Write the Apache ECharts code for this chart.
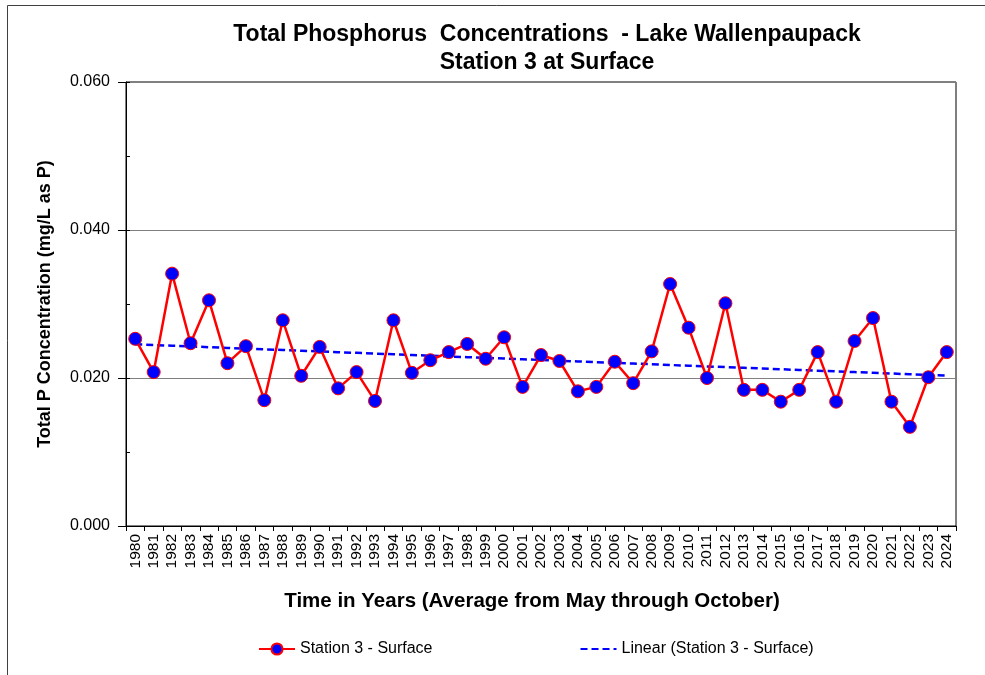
<!DOCTYPE html>
<html>
<head>
<meta charset="utf-8">
<script src="https://cdn.jsdelivr.net/npm/echarts@6/dist/echarts.min.js"></script>
<style>
  html, body { margin: 0; padding: 0; background: #fff; }
  #chart { width: 985px; height: 675px; }
</style>
</head>
<body>
<div id="chart"></div>
<script>
// years 1980 - 2024
const years = [
  '1980','1981','1982','1983','1984','1985','1986','1987','1988','1989',
  '1990','1991','1992','1993','1994','1995','1996','1997','1998','1999',
  '2000','2001','2002','2003','2004','2005','2006','2007','2008','2009',
  '2010','2011','2012','2013','2014','2015','2016','2017','2018','2019',
  '2020','2021','2022','2023','2024'
];

// average total P (mg/L)
const station3 = [
  0.0253, 0.0208, 0.0341, 0.0247, 0.0305, 0.0220, 0.0243, 0.0170, 0.0278, 0.0203,
  0.0242, 0.0186, 0.0208, 0.0169, 0.0278, 0.0207, 0.0224, 0.0235, 0.0246, 0.0226,
  0.0255, 0.0188, 0.0231, 0.0223, 0.0182, 0.0188, 0.0222, 0.0193, 0.0236, 0.0327,
  0.0268, 0.0200, 0.0301, 0.0184, 0.0184, 0.0168, 0.0184, 0.0235, 0.0168, 0.0250,
  0.0281, 0.0168, 0.0134, 0.0201, 0.0235
];

const yTicks = [0, 0.02, 0.04, 0.06];

// least squares trend line (like Excel's "Linear" trendline)
const n = station3.length;
let sx = 0, sy = 0, sxy = 0, sxx = 0;
station3.forEach((v, i) => { sx += i; sy += v; sxy += i * v; sxx += i * i; });
const slope = (n * sxy - sx * sy) / (n * sxx - sx * sx);
const intercept = (sy - slope * sx) / n;
const trend = station3.map((v, i) => intercept + slope * i);

const font = 'Liberation Sans, Arial, sans-serif';
const chart = echarts.init(document.getElementById('chart'));

chart.setOption({
  backgroundColor: '#fff',
  animation: false,
  textStyle: { fontFamily: font },
  graphic: [{
    // outer frame (only top and left edges are visible)
    type: 'rect',
    shape: { x: 7.5, y: 5.5, width: 1000, height: 700 },
    style: { fill: 'none', stroke: '#404040', lineWidth: 1 }
  }],
  title: {
    text: 'Total Phosphorus  Concentrations  - Lake Wallenpaupack\nStation 3 at Surface',
    left: 542,
    textAlign: 'center',
    top: 16,
    textStyle: { fontSize: 23, fontWeight: 'bold', color: '#000', lineHeight: 28, fontFamily: font }
  },
  legend: {
    top: 636,
    left: 253,
    itemWidth: 36,
    itemHeight: 14,
    itemGap: 147,
    textStyle: { fontSize: 16, color: '#000', fontFamily: font },
    data: [
      { name: 'Station 3 - Surface' },
      { name: 'Linear (Station 3 - Surface)', itemStyle: { color: 'rgba(0,0,0,0)', borderColor: 'rgba(0,0,0,0)', borderWidth: 0 } }
    ]
  },
  grid: {
    left: 126, right: 29, top: 82, bottom: 149,
    show: true, borderColor: '#000', borderWidth: 1
  },
  xAxis: {
    type: 'category',
    data: years,
    boundaryGap: true,
    name: 'Time in Years (Average from May through October)',
    nameLocation: 'middle',
    nameGap: 65,
    nameTextStyle: { fontSize: 20.5, fontWeight: 'bold', color: '#000', fontFamily: font, padding: [0, 18, 0, 0] },
    axisLine: { lineStyle: { color: '#000', width: 1 } },
    axisTick: { show: true, alignWithLabel: false, length: 5, lineStyle: { color: '#000' } },
    axisLabel: { rotate: 90, fontSize: 15.5, color: '#000', margin: 8, interval: 0, fontFamily: font },
    splitLine: { show: false }
  },
  yAxis: [
    {
      type: 'value',
      min: yTicks[0],
      max: yTicks[yTicks.length - 1],
      interval: 0.02,
      name: 'Total P Concentration (mg/L as P)',
      nameLocation: 'middle',
      nameGap: 72,
      nameTextStyle: { fontSize: 18, fontWeight: 'bold', color: '#000', fontFamily: font },
      axisLine: { show: true, lineStyle: { color: '#000', width: 1 } },
      axisTick: { show: true, length: 8, lineStyle: { color: '#000' } },
      axisLabel: {
        fontSize: 16, color: '#000', margin: 16, fontFamily: font,
        formatter: v => v.toFixed(3)
      },
      splitLine: { show: true, lineStyle: { color: '#808080', width: 1 } }
    },
    {
      // minor ticks drawn inside the plot
      type: 'value',
      position: 'left',
      offset: 0,
      min: yTicks[0],
      max: yTicks[yTicks.length - 1],
      interval: 0.01,
      axisLine: { show: false },
      axisTick: { show: true, inside: true, length: 4, lineStyle: { color: '#000' } },
      axisLabel: { show: false },
      splitLine: { show: false }
    }
  ],
  series: [
    {
      name: 'Station 3 - Surface',
      type: 'line',
      data: station3,
      symbol: 'circle',
      symbolSize: 13,
      lineStyle: { color: '#ff0000', width: 2.5 },
      itemStyle: { color: '#0000ff', borderColor: '#ff0000', borderWidth: 1 },
      z: 3
    },
    {
      name: 'Linear (Station 3 - Surface)',
      type: 'line',
      data: trend,
      symbol: 'none',
      lineStyle: { color: '#0000ff', width: 2.5, type: [7, 4] },
      itemStyle: { color: '#0000ff' },
      z: 2
    }
  ]
});
</script>
</body>
</html>
